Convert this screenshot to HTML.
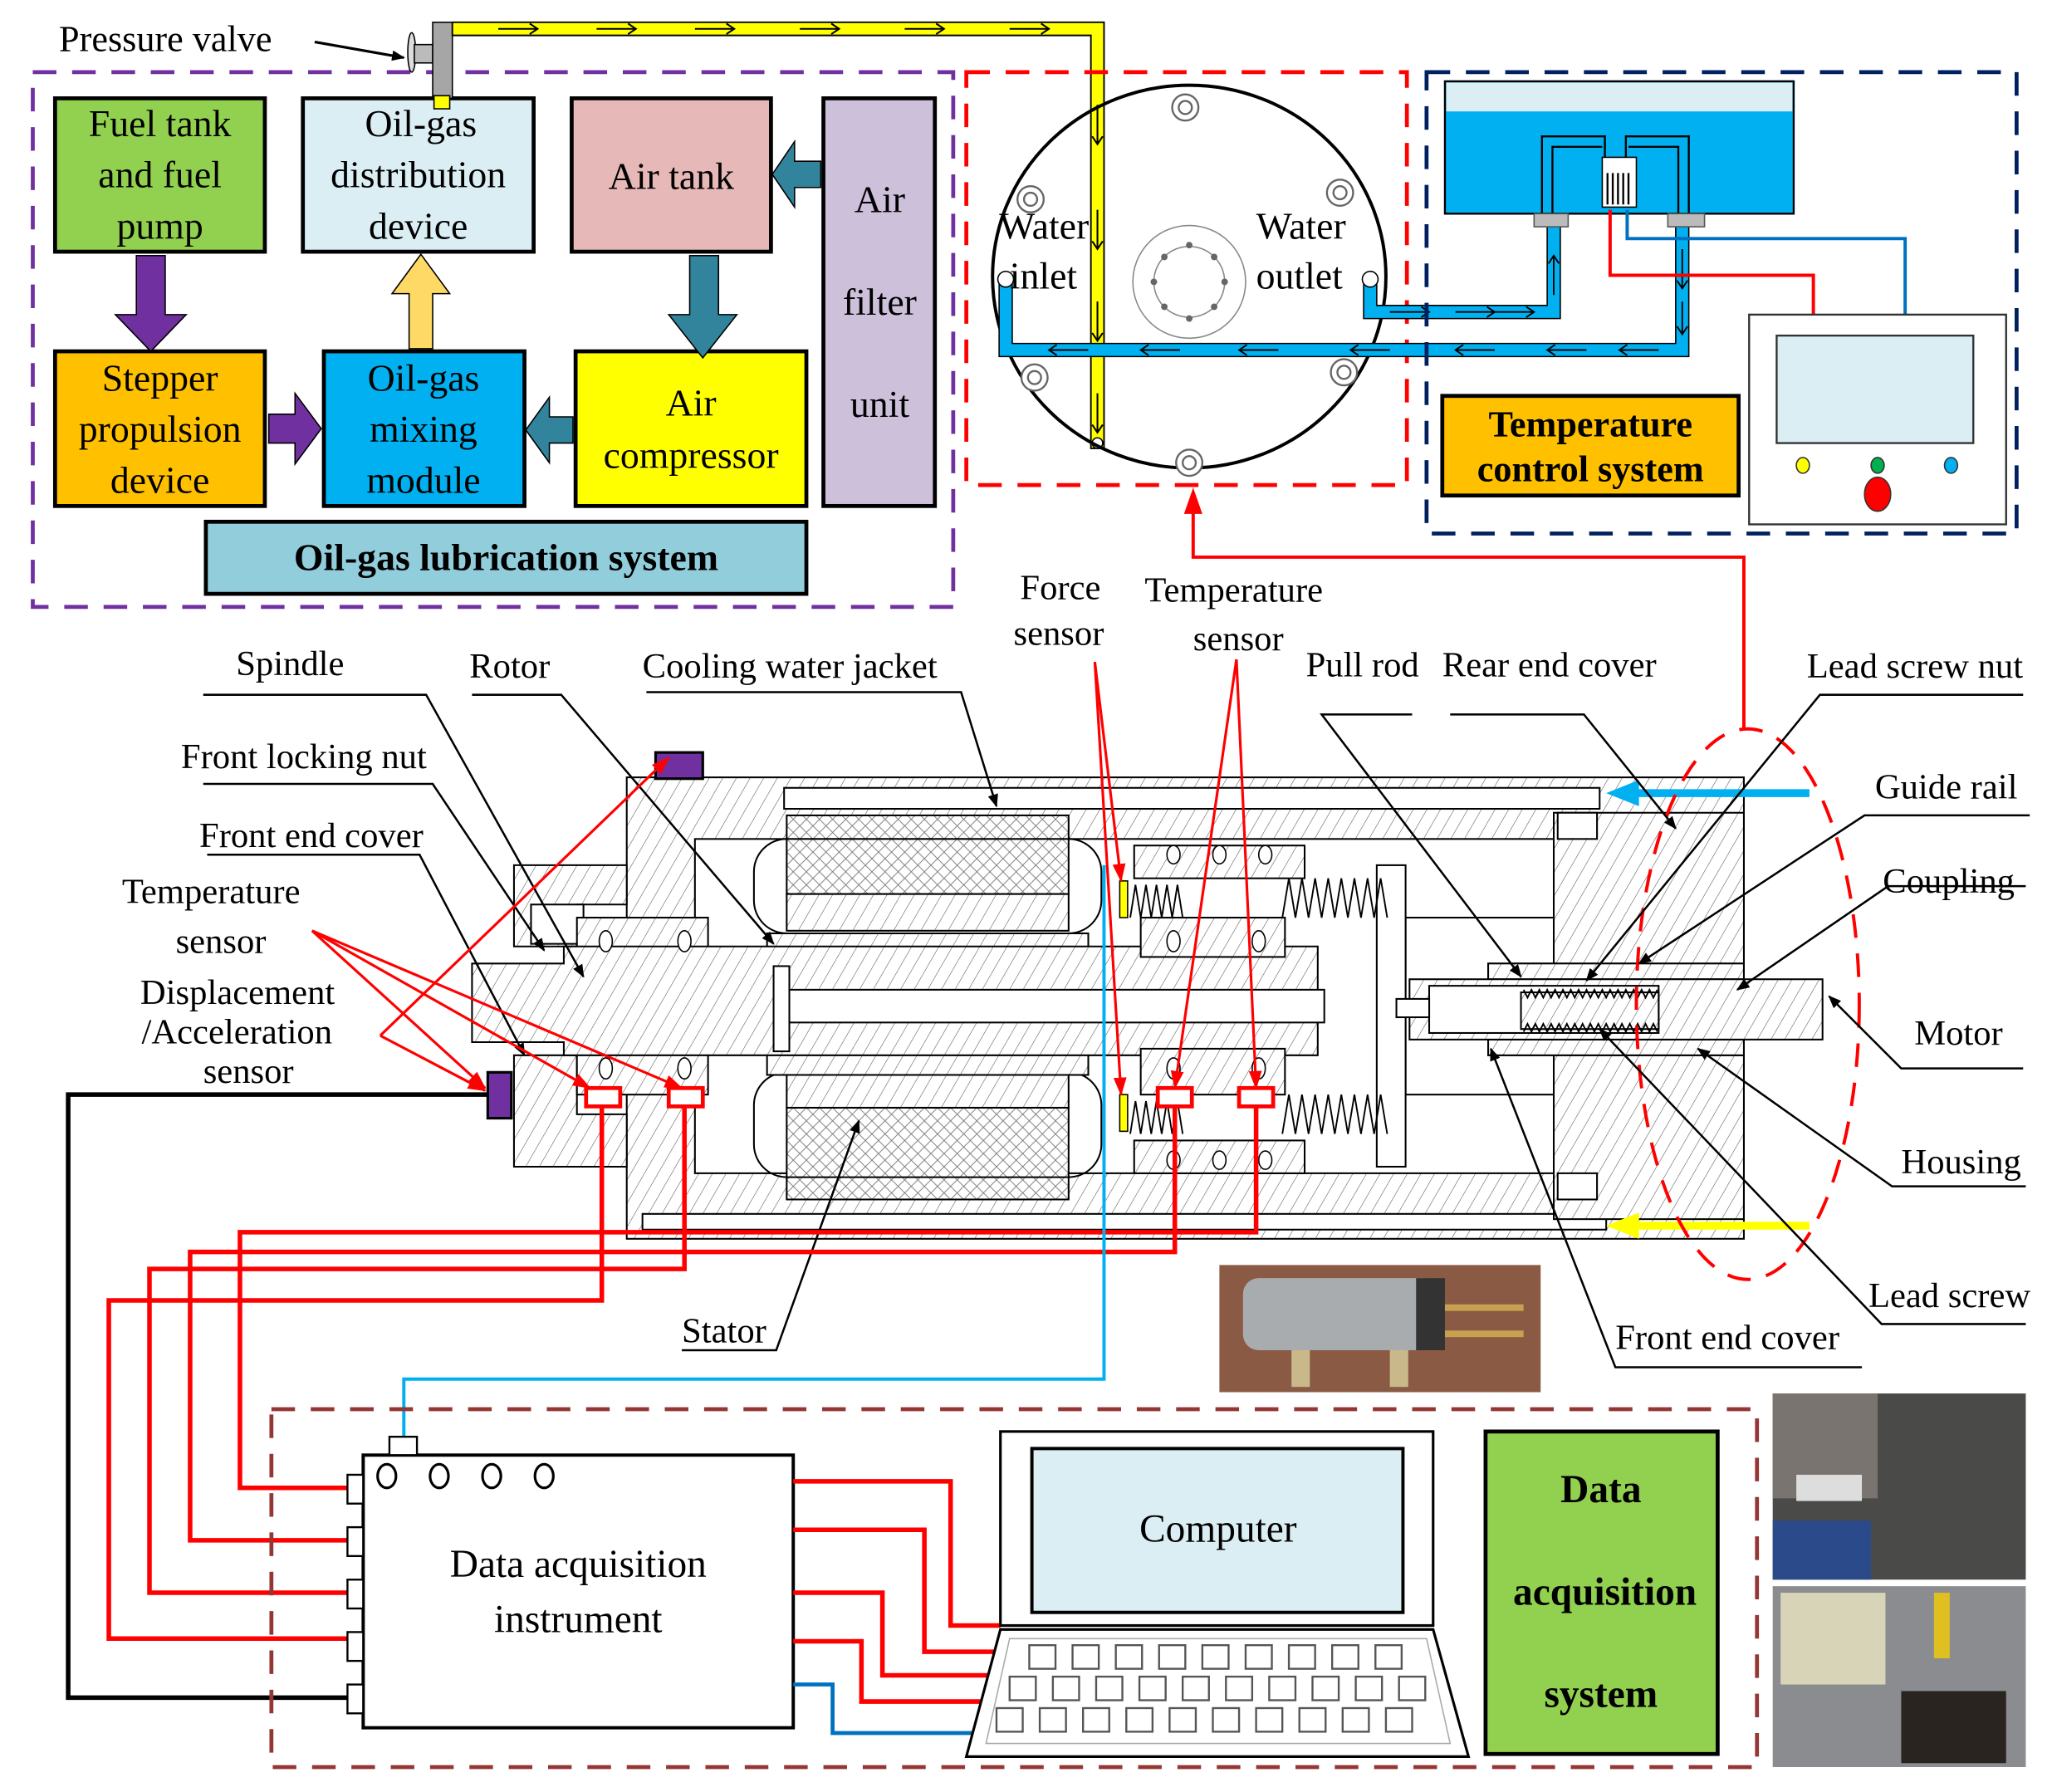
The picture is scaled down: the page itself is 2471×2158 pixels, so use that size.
<!DOCTYPE html>
<html><head><meta charset="utf-8"><style>
html,body{margin:0;padding:0;background:#fff}
svg{display:block}
text{font-family:"Liberation Serif",serif;fill:#000}
</style></head><body>
<svg width="2471" height="2158" viewBox="0 0 1565 1367" preserveAspectRatio="none" xmlns="http://www.w3.org/2000/svg">
<defs>
<pattern id="h" patternUnits="userSpaceOnUse" width="9" height="9" patternTransform="rotate(30)">
<rect width="9" height="9" fill="#fff"/><line x1="0" y1="0" x2="0" y2="9" stroke="#555" stroke-width="0.7"/></pattern>
<pattern id="hx" patternUnits="userSpaceOnUse" width="10" height="10">
<rect width="10" height="10" fill="#fff"/><path d="M0 0L10 10M10 0L0 10" stroke="#777" stroke-width="0.6"/></pattern>
<marker id="ab" markerWidth="10" markerHeight="8" refX="9" refY="4" orient="auto" markerUnits="userSpaceOnUse"><path d="M0 0L10 4L0 8z" fill="#000"/></marker>
<marker id="ar" markerWidth="14" markerHeight="10" refX="13" refY="5" orient="auto" markerUnits="userSpaceOnUse"><path d="M0 0L14 5L0 10z" fill="#f00"/></marker>
</defs>

<!-- ========== Oil-gas lubrication system ========== -->
<rect x="25" y="55" width="702" height="408" fill="none" stroke="#7030a0" stroke-width="3" stroke-dasharray="18,12"/>
<rect x="42" y="75" width="160" height="117" fill="#92d050" stroke="#000" stroke-width="3"/>
<text font-size="29" text-anchor="middle"><tspan x="122" y="104">Fuel tank</tspan><tspan x="122" y="143">and fuel</tspan><tspan x="122" y="182">pump</tspan></text>
<rect x="231" y="75" width="176" height="117" fill="#daeef3" stroke="#000" stroke-width="3"/>
<text font-size="29" text-anchor="middle"><tspan x="321" y="104">Oil-gas</tspan><tspan x="319" y="143">distribution</tspan><tspan x="319" y="182">device</tspan></text>
<rect x="436" y="75" width="152" height="117" fill="#e6b9b8" stroke="#000" stroke-width="3"/>
<text font-size="29" x="512" y="144" text-anchor="middle">Air tank</text>
<rect x="628" y="75" width="85" height="311" fill="#ccc0da" stroke="#000" stroke-width="3"/>
<text font-size="29" text-anchor="middle"><tspan x="671" y="162">Air</tspan><tspan x="671" y="240">filter</tspan><tspan x="671" y="318">unit</tspan></text>
<rect x="42" y="268" width="160" height="118" fill="#ffc000" stroke="#000" stroke-width="3"/>
<text font-size="29" text-anchor="middle"><tspan x="122" y="298">Stepper</tspan><tspan x="122" y="337">propulsion</tspan><tspan x="122" y="376">device</tspan></text>
<rect x="247" y="268" width="153" height="118" fill="#00b0f0" stroke="#000" stroke-width="3"/>
<text font-size="29" text-anchor="middle"><tspan x="323" y="298">Oil-gas</tspan><tspan x="323" y="337">mixing</tspan><tspan x="323" y="376">module</tspan></text>
<rect x="439" y="268" width="176" height="118" fill="#ffff00" stroke="#000" stroke-width="3"/>
<text font-size="29" text-anchor="middle"><tspan x="527" y="317">Air</tspan><tspan x="527" y="357">compressor</tspan></text>
<rect x="157" y="398" width="458" height="55" fill="#92cddc" stroke="#000" stroke-width="3"/>
<text font-size="29" font-weight="bold" x="386" y="435" text-anchor="middle">Oil-gas lubrication system</text>
<!-- block arrows -->
<path d="M104 195h22v45h16l-27 28l-27-28h16z" fill="#7030a0" stroke="#000" stroke-width="1"/>
<path d="M205 316h20v-16l20 27l-20 27v-16h-20z" fill="#7030a0" stroke="#000" stroke-width="1"/>
<path d="M312 266h18v-42h13l-22-30l-22 30h13z" fill="#ffd966" stroke="#000" stroke-width="1"/>
<path d="M526 195h22v45h14l-26 33l-26-33h16z" fill="#31849b" stroke="#000" stroke-width="1"/>
<path d="M437 318h-18v-15l-18 25l18 25v-15h18z" fill="#31849b" stroke="#000" stroke-width="1"/>
<path d="M626 123h-20v-15l-17 25l17 25v-15h20z" fill="#31849b" stroke="#000" stroke-width="1"/>

<!-- pressure valve and yellow pipe -->
<text font-size="28" x="45" y="39">Pressure valve</text>
<line x1="240" y1="32" x2="308" y2="44" stroke="#000" stroke-width="2" marker-end="url(#ab)"/>
<ellipse cx="314" cy="40" rx="3" ry="15" fill="#ddd" stroke="#000"/>
<rect x="316" y="34" width="14" height="14" fill="#bbb" stroke="#000"/>
<rect x="330" y="17" width="15" height="58" fill="#a6a6a6" stroke="#000"/>
<rect x="331" y="73" width="12" height="10" fill="#ffff00" stroke="#000"/>
<path d="M345 17H842V342H832V27H345z" fill="#ffff00" stroke="#000" stroke-width="1.2"/>
<g stroke="#000" stroke-width="1.3" fill="none">
<path d="M380 22h30m-6-4l6 4l-6 4M455 22h30m-6-4l6 4l-6 4M530 22h30m-6-4l6 4l-6 4M610 22h30m-6-4l6 4l-6 4M690 22h30m-6-4l6 4l-6 4M770 22h30m-6-4l6 4l-6 4"/>
<path d="M837 80v30m-4-6l4 6l4-6M837 160v30m-4-6l4 6l4-6M837 230v30m-4-6l4 6l4-6M837 300v30m-4-6l4 6l4-6"/>
</g>
<circle cx="837" cy="338" r="4" fill="#fff" stroke="#000"/>

<!-- red dashed: spindle end view -->
<rect x="737" y="55" width="336" height="315" fill="none" stroke="#f00" stroke-width="3" stroke-dasharray="18,12"/>
<ellipse cx="907" cy="211" rx="150" ry="146" fill="none" stroke="#000" stroke-width="2.5"/>
<circle cx="907" cy="215" r="43" fill="none" stroke="#888"/>
<circle cx="907" cy="215" r="27" fill="none" stroke="#888"/>
<g fill="#666"><circle cx="907" cy="187" r="2.5"/><circle cx="907" cy="243" r="2.5"/><circle cx="880" cy="215" r="2.5"/><circle cx="934" cy="215" r="2.5"/><circle cx="888" cy="196" r="2.5"/><circle cx="926" cy="196" r="2.5"/><circle cx="888" cy="234" r="2.5"/><circle cx="926" cy="234" r="2.5"/></g>
<g fill="#fff" stroke="#666" stroke-width="1.5">
<circle cx="904" cy="82" r="10"/><circle cx="904" cy="82" r="5"/>
<circle cx="786" cy="152" r="10"/><circle cx="786" cy="152" r="5"/>
<circle cx="1022" cy="147" r="10"/><circle cx="1022" cy="147" r="5"/>
<circle cx="789" cy="288" r="10"/><circle cx="789" cy="288" r="5"/>
<circle cx="1025" cy="284" r="10"/><circle cx="1025" cy="284" r="5"/>
<circle cx="907" cy="353" r="10"/><circle cx="907" cy="353" r="5"/>
</g>
<!-- blue water pipes -->
<path d="M762 217H772V262H1278V170H1288V272H762z" fill="#00b0f0" stroke="#000" stroke-width="1"/>
<path d="M1040 213H1050V233H1180V170H1190V243H1040z" fill="#00b0f0" stroke="#000" stroke-width="1"/>
<g stroke="#000" stroke-width="1.2" fill="none">
<path d="M830 267h-30m6-4l-6 4l6 4M900 267h-30m6-4l-6 4l6 4M975 267h-30m6-4l-6 4l6 4M1060 267h-30m6-4l-6 4l6 4M1140 267h-30m6-4l-6 4l6 4M1210 267h-30m6-4l-6 4l6 4M1265 267h-30m6-4l-6 4l6 4"/>
<path d="M1060 238h30m-6-4l6 4l-6 4M1110 238h30m-6-4l6 4l-6 4M1140 238h30m-6-4l6 4l-6 4"/>
<path d="M1185 225v-30m-4 6l4-6l4 6M1283 190v30m-4-6l4 6l4-6M1283 230v25m-4-6l4 6l4-6"/>
</g>
<circle cx="1045" cy="213" r="6" fill="#fff" stroke="#000"/>
<circle cx="767" cy="213" r="6" fill="#fff" stroke="#000"/>
<text font-size="29" x="762" y="182">Water</text><text font-size="29" x="770" y="220">inlet</text>
<text font-size="29" x="958" y="182">Water</text><text font-size="29" x="958" y="220">outlet</text>

<!-- navy dashed: temperature control -->
<rect x="1088" y="55" width="450" height="352" fill="none" stroke="#002060" stroke-width="3" stroke-dasharray="18,12"/>
<rect x="1102" y="62" width="266" height="101" fill="#00b0f0" stroke="#000" stroke-width="1.5"/>
<rect x="1103" y="63" width="264" height="22" fill="#daeef3"/>
<path d="M1176 163V104H1224V120M1184 163V112H1222M1288 163V104H1240V120M1280 163V112H1242" fill="none" stroke="#000" stroke-width="1.5"/>
<rect x="1222" y="120" width="26" height="38" fill="#fff" stroke="#000"/>
<g stroke="#000" stroke-width="1.5"><line x1="1226" y1="132" x2="1226" y2="156"/><line x1="1230" y1="132" x2="1230" y2="156"/><line x1="1234" y1="132" x2="1234" y2="156"/><line x1="1238" y1="132" x2="1238" y2="156"/><line x1="1242" y1="132" x2="1242" y2="156"/></g>
<rect x="1170" y="163" width="26" height="10" fill="#bbb" stroke="#555"/>
<rect x="1272" y="163" width="28" height="10" fill="#bbb" stroke="#555"/>
<path d="M1228 160V210H1383V242" fill="none" stroke="#f00" stroke-width="2.5"/>
<path d="M1241 160V182H1453V242" fill="none" stroke="#0070c0" stroke-width="2.5"/>
<rect x="1334" y="240" width="196" height="160" fill="#fff" stroke="#333" stroke-width="1.5"/>
<rect x="1355" y="256" width="150" height="82" fill="#daeef3" stroke="#333" stroke-width="1.5"/>
<ellipse cx="1375" cy="355" rx="5" ry="6" fill="#ffff00" stroke="#333"/>
<ellipse cx="1432" cy="355" rx="5" ry="6" fill="#00b050" stroke="#333"/>
<ellipse cx="1488" cy="355" rx="5" ry="6" fill="#00b0f0" stroke="#333"/>
<ellipse cx="1432" cy="377" rx="10" ry="13" fill="#f00" stroke="#333"/>
<rect x="1100" y="302" width="226" height="76" fill="#ffc000" stroke="#000" stroke-width="3"/>
<text font-size="28" font-weight="bold" text-anchor="middle"><tspan x="1213" y="333">Temperature</tspan><tspan x="1213" y="367">control system</tspan></text>

<!-- red feedback line -->
<path d="M1330 556V425H910V390" fill="none" stroke="#f00" stroke-width="2.5"/>
<path d="M903 392L910 372L917 392z" fill="#f00"/>

<!-- ========== Spindle section ========== -->
<g stroke="#000" stroke-width="1.3">
<!-- housing shells -->
<rect x="478" y="593" width="852" height="352" fill="url(#h)"/>
<rect x="598" y="601" width="622" height="16" fill="#fff"/>
<rect x="490" y="926" width="735" height="12" fill="#fff"/>
<!-- inner cavity -->
<rect x="530" y="640" width="655" height="255" fill="#fff"/>
<rect x="1072" y="700" width="113" height="135" fill="#fff"/>
<!-- front flange and cover -->
<path d="M392 660H478V690H440V722H392z" fill="url(#h)"/>
<path d="M392 805H440V850H478V890H392z" fill="url(#h)"/>
<rect x="405" y="690" width="40" height="30" fill="#fff"/>
<!-- bearings front -->
<rect x="440" y="700" width="100" height="30" fill="url(#h)"/>
<rect x="440" y="800" width="100" height="35" fill="url(#h)"/>
<!-- stator -->
<rect x="600" y="622" width="215" height="60" fill="url(#hx)"/>
<rect x="600" y="682" width="215" height="28" fill="url(#h)"/>
<rect x="600" y="845" width="215" height="70" fill="url(#hx)"/>
<rect x="600" y="818" width="215" height="27" fill="url(#h)"/>
<rect x="575" y="640" width="265" height="72" rx="25" fill="none"/>
<rect x="575" y="818" width="265" height="80" rx="25" fill="none"/>
<!-- rotor -->
<rect x="585" y="712" width="245" height="25" fill="url(#h)"/>
<rect x="585" y="795" width="245" height="25" fill="url(#h)"/>
<!-- shaft -->
<path d="M360 735H430V722H1005V805H430V795H360z" fill="url(#h)"/>
<rect x="600" y="755" width="410" height="25" fill="#fff"/>
<rect x="590" y="737" width="12" height="65" fill="#fff"/>
<!-- rear bearings -->
<rect x="865" y="645" width="130" height="25" fill="url(#h)"/>
<rect x="870" y="700" width="110" height="30" fill="url(#h)"/>
<rect x="870" y="800" width="110" height="35" fill="url(#h)"/>
<rect x="865" y="870" width="130" height="25" fill="url(#h)"/>
<rect x="1050" y="660" width="22" height="230" fill="#fff"/>
<!-- rear end cover -->
<rect x="1185" y="620" width="145" height="310" fill="url(#h)"/>
<rect x="1135" y="735" width="195" height="70" fill="#fff"/>
<rect x="1135" y="735" width="195" height="12" fill="url(#h)"/>
<rect x="1135" y="793" width="195" height="12" fill="url(#h)"/>
<rect x="1075" y="747" width="315" height="46" fill="url(#h)"/>
<rect x="1090" y="752" width="175" height="36" fill="#fff"/>
<rect x="1160" y="757" width="105" height="28" fill="url(#h)"/>
<rect x="1065" y="762" width="25" height="14" fill="#fff"/>
<rect x="1188" y="620" width="30" height="20" fill="#fff"/>
<rect x="1188" y="895" width="30" height="20" fill="#fff"/>
</g>
<!-- bearing balls -->
<g fill="#fff" stroke="#000"><ellipse cx="462" cy="718" rx="5" ry="8"/><ellipse cx="522" cy="718" rx="5" ry="8"/><ellipse cx="462" cy="815" rx="5" ry="8"/><ellipse cx="522" cy="815" rx="5" ry="8"/>
<ellipse cx="895" cy="652" rx="5" ry="7"/><ellipse cx="930" cy="652" rx="5" ry="7"/><ellipse cx="965" cy="652" rx="5" ry="7"/>
<ellipse cx="895" cy="718" rx="5" ry="8"/><ellipse cx="960" cy="718" rx="5" ry="8"/><ellipse cx="895" cy="815" rx="5" ry="8"/><ellipse cx="960" cy="815" rx="5" ry="8"/>
<ellipse cx="895" cy="885" rx="5" ry="7"/><ellipse cx="930" cy="885" rx="5" ry="7"/><ellipse cx="965" cy="885" rx="5" ry="7"/></g>
<!-- springs -->
<g fill="none" stroke="#000" stroke-width="1.2">
<path d="M978 700l5-30l5 30l5-30l5 30l5-30l5 30l5-30l5 30l5-30l5 30l5-30l5 30l5-30l5 30l5-30l5 30"/>
<path d="M978 865l5-30l5 30l5-30l5 30l5-30l5 30l5-30l5 30l5-30l5 30l5-30l5 30l5-30l5 30l5-30l5 30"/>
<path d="M862 700l4-25l4 25l4-25l4 25l4-25l4 25l4-25l4 25l4-25l4 25"/>
<path d="M862 865l4-25l4 25l4-25l4 25l4-25l4 25l4-25l4 25l4-25l4 25"/>
<path d="M1162 755l3 6l3-6l3 6l3-6l3 6l3-6l3 6l3-6l3 6l3-6l3 6l3-6l3 6l3-6l3 6l3-6l3 6l3-6l3 6l3-6l3 6l3-6l3 6l3-6l3 6l3-6l3 6l3-6l3 6l3-6l3 6l3-6l3 6l3-6"/>
<path d="M1162 787l3-6l3 6l3-6l3 6l3-6l3 6l3-6l3 6l3-6l3 6l3-6l3 6l3-6l3 6l3-6l3 6l3-6l3 6l3-6l3 6l3-6l3 6l3-6l3 6l3-6l3 6l3-6l3 6l3-6l3 6l3-6l3 6l3-6l3 6"/>
</g>
<!-- force sensors yellow -->
<rect x="854" y="672" width="6" height="28" fill="#ffff00" stroke="#000"/>
<rect x="854" y="835" width="6" height="28" fill="#ffff00" stroke="#000"/>
<!-- cooling inlet/outlet arrows -->
<path d="M1380 605H1245" stroke="#00b0f0" stroke-width="6"/><path d="M1250 595L1225 605L1250 615z" fill="#00b0f0"/>
<path d="M1380 935H1245" stroke="#ffff00" stroke-width="6"/><path d="M1250 925L1225 935L1250 945z" fill="#ffff00"/>
<!-- dashed red ellipse -->
<ellipse cx="1333" cy="766" rx="85" ry="210" fill="none" stroke="#f00" stroke-width="2.5" stroke-dasharray="18,12"/>
<!-- purple sensors -->
<rect x="500" y="574" width="36" height="20" fill="#7030a0" stroke="#000" stroke-width="2"/>
<rect x="372" y="818" width="18" height="35" fill="#7030a0" stroke="#000" stroke-width="2"/>
<!-- red temp sensors -->
<g fill="#fff" stroke="#f00" stroke-width="3">
<rect x="447" y="830" width="26" height="14"/><rect x="510" y="830" width="26" height="14"/><rect x="883" y="830" width="26" height="14"/><rect x="945" y="830" width="26" height="14"/></g>

<!-- labels and leaders -->
<g font-size="27">
<text x="180" y="515">Spindle</text>
<text x="358" y="517">Rotor</text>
<text x="490" y="517">Cooling water jacket</text>
<text x="778" y="457">Force</text><text x="773" y="492">sensor</text>
<text x="873" y="459">Temperature</text><text x="910" y="496">sensor</text>
<text x="996" y="516">Pull rod</text>
<text x="1100" y="516">Rear end cover</text>
<text x="1378" y="517">Lead screw nut</text>
<text x="1430" y="609">Guide rail</text>
<text x="1436" y="681">Coupling</text>
<text x="1460" y="797">Motor</text>
<text x="1450" y="895">Housing</text>
<text x="1425" y="997">Lead screw</text>
<text x="1232" y="1029">Front end cover</text>
<text x="138" y="586">Front locking nut</text>
<text x="152" y="646">Front end cover</text>
<text x="93" y="689">Temperature</text><text x="134" y="727">sensor</text>
<text x="107" y="766">Displacement</text><text x="108" y="796">/Acceleration</text><text x="155" y="826">sensor</text>
<text x="520" y="1024">Stator</text>
</g>
<g fill="none" stroke="#000" stroke-width="1.6">
<path d="M155 530H325L445 745" marker-end="url(#ab)"/>
<path d="M360 530H428L590 720" marker-end="url(#ab)"/>
<path d="M493 528H733L760 615" marker-end="url(#ab)"/>
<path d="M1077 545H1008L1160 745" marker-end="url(#ab)"/>
<path d="M1106 545H1208L1278 632" marker-end="url(#ab)"/>
<path d="M1543 530H1388L1210 748" marker-end="url(#ab)"/>
<path d="M1548 622H1422L1250 735" marker-end="url(#ab)"/>
<path d="M1545 676H1440L1325 755" marker-end="url(#ab)"/>
<path d="M1543 815H1450L1395 760" marker-end="url(#ab)"/>
<path d="M1545 905H1443L1295 800" marker-end="url(#ab)"/>
<path d="M1545 1010H1435L1220 785" marker-end="url(#ab)"/>
<path d="M1420 1043H1232L1137 800" marker-end="url(#ab)"/>
<path d="M155 598H330L415 725" marker-end="url(#ab)"/>
<path d="M158 652H320L400 805" marker-end="url(#ab)"/>
<path d="M520 1030H592L655 855" marker-end="url(#ab)"/>
</g>
<g fill="none" stroke="#f00" stroke-width="2">
<path d="M238 710L370 830" marker-end="url(#ar)"/>
<path d="M238 710L450 830" marker-end="url(#ar)"/>
<path d="M238 710L520 830" marker-end="url(#ar)"/>
<path d="M290 790L510 578" marker-end="url(#ar)"/>
<path d="M290 790L370 832" marker-end="url(#ar)"/>
<path d="M835 505L855 672" marker-end="url(#ar)"/>
<path d="M835 505L855 835" marker-end="url(#ar)"/>
<path d="M943 503L896 830" marker-end="url(#ar)"/>
<path d="M943 503L958 830" marker-end="url(#ar)"/>
</g>

<!-- wiring to DAQ -->
<g fill="none" stroke-width="3.5">
<path d="M459 844V992H83V1250H265" stroke="#f00"/>
<path d="M522 844V968H114V1215H265" stroke="#f00"/>
<path d="M896 844V955H145V1175H265" stroke="#f00"/>
<path d="M958 844V940H183V1135H265" stroke="#f00"/>
<path d="M372 835H52V1295H265" stroke="#000"/>
<path d="M842 660V1052H308V1098" stroke="#00b0f0" stroke-width="2.5"/>
</g>

<!-- photo of spindle -->
<rect x="930" y="965" width="245" height="97" fill="#8a5a45"/>
<rect x="948" y="975" width="150" height="55" rx="12" fill="#a9acae"/>
<rect x="1080" y="975" width="22" height="55" fill="#333"/>
<rect x="985" y="1030" width="14" height="28" fill="#c9b98a"/><rect x="1060" y="1030" width="14" height="28" fill="#c9b98a"/>
<rect x="1102" y="995" width="60" height="5" fill="#c8a050"/><rect x="1102" y="1015" width="60" height="5" fill="#c8a050"/>

<!-- ========== Data acquisition ========== -->
<rect x="207" y="1075" width="1133" height="273" fill="none" stroke="#943634" stroke-width="3" stroke-dasharray="18,12"/>
<rect x="277" y="1110" width="328" height="208" fill="#fff" stroke="#000" stroke-width="2.5"/>
<rect x="297" y="1096" width="21" height="14" fill="#fff" stroke="#000" stroke-width="1.5"/>
<g fill="#fff" stroke="#000" stroke-width="2"><ellipse cx="295" cy="1126" rx="7" ry="9"/><ellipse cx="335" cy="1126" rx="7" ry="9"/><ellipse cx="375" cy="1126" rx="7" ry="9"/><ellipse cx="415" cy="1126" rx="7" ry="9"/></g>
<g fill="#fff" stroke="#000" stroke-width="1.5"><rect x="265" y="1125" width="12" height="22"/><rect x="265" y="1165" width="12" height="22"/><rect x="265" y="1205" width="12" height="22"/><rect x="265" y="1245" width="12" height="22"/><rect x="265" y="1285" width="12" height="22"/></g>
<text font-size="30" text-anchor="middle"><tspan x="441" y="1203">Data acquisition</tspan><tspan x="441" y="1245">instrument</tspan></text>
<g fill="none" stroke-width="3.5" stroke="#f00">
<path d="M605 1130H725V1240H763"/><path d="M605 1167H705V1260H760"/><path d="M605 1215H673V1278H757"/><path d="M605 1252H657V1298H753"/>
</g>
<path d="M605 1285H635V1322H742" fill="none" stroke="#0070c0" stroke-width="3"/>
<rect x="763" y="1092" width="330" height="148" fill="#fff" stroke="#000" stroke-width="2"/>
<rect x="787" y="1105" width="283" height="125" fill="#daeef3" stroke="#000" stroke-width="2.5"/>
<text font-size="30" x="929" y="1176" text-anchor="middle">Computer</text>
<path d="M763 1243H1093L1120 1340H737z" fill="#fff" stroke="#000" stroke-width="2"/>
<path d="M770 1250H1088L1106 1330H752z" fill="none" stroke="#aaa"/>
<g fill="#fff" stroke="#555" stroke-width="1.5">
<rect x="785" y="1255" width="20" height="18"/><rect x="818" y="1255" width="20" height="18"/><rect x="851" y="1255" width="20" height="18"/><rect x="884" y="1255" width="20" height="18"/><rect x="917" y="1255" width="20" height="18"/><rect x="950" y="1255" width="20" height="18"/><rect x="983" y="1255" width="20" height="18"/><rect x="1016" y="1255" width="20" height="18"/><rect x="1049" y="1255" width="20" height="18"/>
<rect x="770" y="1279" width="20" height="18"/><rect x="803" y="1279" width="20" height="18"/><rect x="836" y="1279" width="20" height="18"/><rect x="869" y="1279" width="20" height="18"/><rect x="902" y="1279" width="20" height="18"/><rect x="935" y="1279" width="20" height="18"/><rect x="968" y="1279" width="20" height="18"/><rect x="1001" y="1279" width="20" height="18"/><rect x="1034" y="1279" width="20" height="18"/><rect x="1067" y="1279" width="20" height="18"/>
<rect x="760" y="1303" width="20" height="18"/><rect x="793" y="1303" width="20" height="18"/><rect x="826" y="1303" width="20" height="18"/><rect x="859" y="1303" width="20" height="18"/><rect x="892" y="1303" width="20" height="18"/><rect x="925" y="1303" width="20" height="18"/><rect x="958" y="1303" width="20" height="18"/><rect x="991" y="1303" width="20" height="18"/><rect x="1024" y="1303" width="20" height="18"/><rect x="1057" y="1303" width="20" height="18"/>
</g>
<rect x="1133" y="1092" width="177" height="246" fill="#92d050" stroke="#000" stroke-width="3"/>
<text font-size="30" font-weight="bold" text-anchor="middle"><tspan x="1221" y="1146">Data</tspan><tspan x="1224" y="1224">acquisition</tspan><tspan x="1221" y="1302">system</tspan></text>
<!-- photos -->
<rect x="1352" y="1063" width="193" height="142" fill="#4a4a48"/>
<rect x="1352" y="1063" width="80" height="80" fill="#7a7470"/>
<rect x="1352" y="1160" width="75" height="45" fill="#2a4a8a"/>
<rect x="1370" y="1125" width="50" height="20" fill="#ddd"/>
<rect x="1352" y="1210" width="193" height="138" fill="#8a8c90"/>
<rect x="1358" y="1215" width="80" height="70" fill="#d8d4b8"/>
<rect x="1450" y="1290" width="80" height="55" fill="#2a2420"/>
<rect x="1475" y="1215" width="12" height="50" fill="#e0c020"/>
</svg>
</body></html>
